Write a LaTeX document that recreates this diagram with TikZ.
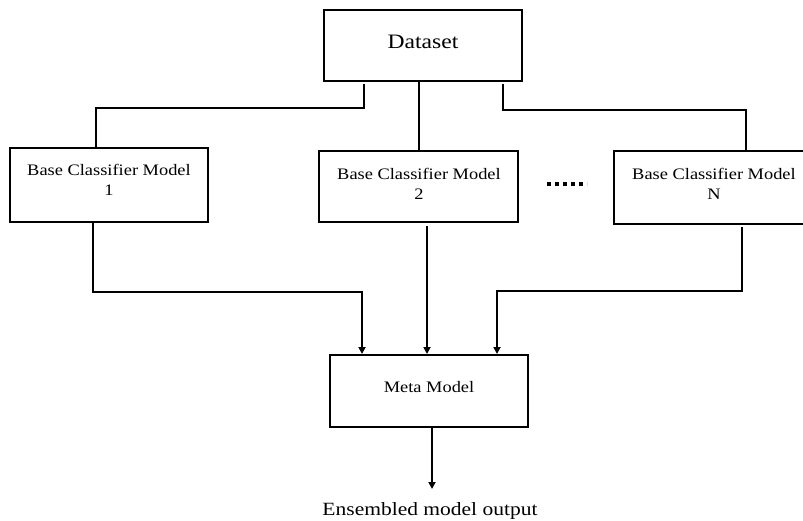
\documentclass[tikz,border=0pt]{standalone}
\usepackage{fontspec}
\setmainfont[FakeStretch=1.15]{Liberation Serif}
\usetikzlibrary{arrows.meta}
\begin{document}
\begin{tikzpicture}[x=1pt,y=-1pt,
  box/.style={draw, line width=2pt, rectangle, inner sep=0pt},
  lbl/.style={inner sep=0pt, align=center, font=\fontsize{16}{20}\selectfont},
  conn/.style={line width=2pt},
  arr/.style={conn, -{Triangle[length=7pt,width=7pt]}}]
\useasboundingbox (0,0) rectangle (803,521);
\clip (0,0) rectangle (803,521);
% boxes
\node[box, minimum width=198pt, minimum height=71pt] (D) at (423,45.5) {};
\node[box, minimum width=198pt, minimum height=74pt] (B1) at (109,185) {};
\node[box, minimum width=199pt, minimum height=71pt] (B2) at (418.5,186.5) {};
\node[box, minimum width=198pt, minimum height=73pt] (BN) at (713,187.5) {};
\node[box, minimum width=198pt, minimum height=72pt] (M) at (429,391) {};
% texts
\node[inner sep=0pt, font=\fontsize{20.5}{24}\selectfont] (Dt) at (423,42) {Dataset};
\node[lbl] (B1t) at (109,180) {Base Classifier Model\\1};
\node[lbl] (B2t) at (419,184) {Base Classifier Model\\2};
\node[lbl] (BNt) at (714,184) {Base Classifier Model\\N};
\node[lbl] (Mt) at (429,387) {Meta Model};
\node[inner sep=0pt, font=\fontsize{18.7}{22}\selectfont] (out) at (430,511) {Ensembled model output};
% dots
\draw[line width=4pt, dash pattern=on 4pt off 4pt] (547,184) -- (587,184);
% coordinates for connector free ends
\coordinate (d1) at (364,84);
\coordinate (d3) at (503,84);
\coordinate (b2o) at (427,226);
\coordinate (bno) at (742,227);
\coordinate (outtip) at (432,489);
% top connectors
\draw[conn] (d1) -- (364,108) -- (96,108) -- (B1.north -| 96,0);
\draw[conn] (D.south -| 419,0) -- (B2.north -| 419,0);
\draw[conn] (d3) -- (503,110) -- (746,110) -- (BN.north -| 746,0);
% bottom connectors
\draw[arr] (B1.south -| 93,0) -- (93,292) -- (362,292) -- (M.north -| 362,0);
\draw[arr] (b2o) -- (M.north -| 427,0);
\draw[arr] (bno) -- (742,291) -- (497,291) -- (M.north -| 497,0);
\draw[arr] (M.south -| 432,0) -- (outtip);
\end{tikzpicture}
\end{document}
